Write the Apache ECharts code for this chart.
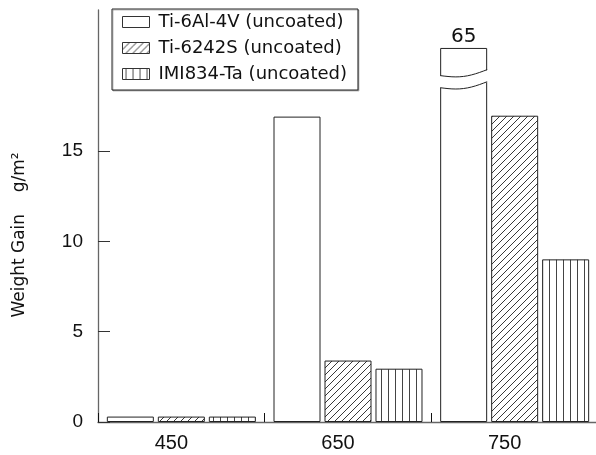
<!DOCTYPE html>
<html><head><meta charset="utf-8">
<script src="https://cdn.jsdelivr.net/npm/echarts@6/dist/echarts.min.js"></script>
<style>html,body{margin:0;padding:0;background:#fff}#c{width:596px;height:455px}</style>
</head><body><div id="c"></div>
<script>
// ---- data ----
const categories = ['450', '650', '750'];
const seriesNames = ['Ti-6Al-4V (uncoated)', 'Ti-6242S (uncoated)', 'IMI834-Ta (uncoated)'];
const ti64 = [0.3, 16.9, 65];
const ti6242 = [0.3, 3.4, 16.95];
const imi834 = [0.3, 2.95, 9.0];
const yTicks = [0, 5, 10, 15];
const yMax = 22.8;
const breakCap = 20.7;   // bars above this value are drawn broken, with their real value on top
const yTitle = 'Weight Gain    g/m\u00B2';

// ---- styles ----
const barW = 47, barGapRatio = 0.085;
const lineCol = '#222';
const axisCol = '#666';
const sansArial = 'Liberation Sans';
const sansWide = 'DejaVu Sans';

function makePattern(kind) {
  const c = document.createElement('canvas');
  const ctx = c.getContext('2d');
  if (kind === 'diag') {
    c.width = 7; c.height = 7;
    ctx.fillStyle = '#fff'; ctx.fillRect(0, 0, 7, 7);
    ctx.strokeStyle = '#222'; ctx.lineWidth = 0.9;
    ctx.beginPath();
    ctx.moveTo(-1, 8); ctx.lineTo(8, -1);
    ctx.moveTo(-1, 1); ctx.lineTo(1, -1);
    ctx.moveTo(6, 8); ctx.lineTo(8, 6);
    ctx.stroke();
  } else {
    c.width = 7; c.height = 4;
    ctx.fillStyle = '#fff'; ctx.fillRect(0, 0, 7, 4);
    ctx.fillStyle = '#444'; ctx.fillRect(3, 0, 1, 4);
  }
  return { image: c, repeat: 'repeat' };
}

const fills = ['#ffffff', makePattern('diag'), makePattern('vert')];
const values = [ti64, ti6242, imi834];

const barSeries = values.map((arr, s) => ({
  type: 'bar',
  name: seriesNames[s],
  barWidth: barW,
  barGap: (barGapRatio * 100) + '%',
  itemStyle: { color: fills[s], borderColor: lineCol, borderWidth: 1 },
  z: 2,
  data: arr.map(v => v > breakCap
    ? { value: breakCap, label: { show: true, position: 'top', distance: 1, formatter: String(v),
        fontFamily: sansWide, fontSize: 20, color: '#111' } }
    : v)
}));

// break marker for bars above the cap (first series)
const breakData = ti64.map((v, i) => [i, v]).filter(d => d[1] > breakCap);
const breakSeries = {
  type: 'custom',
  name: 'break',
  z: 5,
  silent: true,
  data: breakData,
  renderItem: function (params, api) {
    const i = api.value(0);
    const cx = api.coord([i, 0])[0] - (barW + barW * barGapRatio);
    const L = cx - barW / 2, R = cx + barW / 2;
    const edge = (a) => {
      const pts = [];
      for (let k = 0; k <= 12; k++) {
        const t = k / 12;
        const val = a + 0.33 * t - 0.21 * Math.sin(Math.PI * t);
        pts.push([L + (R - L) * t, api.coord([i, val])[1]]);
      }
      return pts;
    };
    const up = edge(breakCap - 1.53);
    const lo = edge(breakCap - 2.2);
    const poly = up.map(p => p.slice()).concat(lo.slice().reverse().map(p => p.slice()));
    poly.forEach(p => { if (p[0] === L) p[0] -= 2; if (p[0] === R) p[0] += 2; });
    return {
      type: 'group',
      children: [
        { type: 'polygon', shape: { points: poly }, style: { fill: '#fff', stroke: null } },
        { type: 'polyline', shape: { points: up }, style: { stroke: lineCol, lineWidth: 1, fill: null } },
        { type: 'polyline', shape: { points: lo }, style: { stroke: lineCol, lineWidth: 1, fill: null } }
      ]
    };
  }
};

const chart = echarts.init(document.getElementById('c'), null, { renderer: 'canvas' });
chart.setOption({
  animation: false,
  backgroundColor: '#fff',
  grid: { left: 98, right: -2, top: 10, bottom: 33, containLabel: false, outerBoundsMode: 'none' },
  legend: {
    data: seriesNames,
    orient: 'vertical',
    left: 112, top: 9,
    itemWidth: 27, itemHeight: 11, itemGap: 8,
    icon: 'rect',
    selectedMode: false,
    itemStyle: { borderWidth: 1, borderColor: '#333' },
    textStyle: { fontFamily: sansWide, fontSize: 18, lineHeight: 18, color: '#111', padding: [0, 0, 0, 4] },
    backgroundColor: '#fff',
    borderColor: lineCol, borderWidth: 1,
    shadowColor: 'rgba(0,0,0,0.25)', shadowBlur: 0, shadowOffsetX: 1, shadowOffsetY: 1,
    padding: [4, 11, 7, 10]
  },
  xAxis: {
    type: 'category',
    data: categories,
    boundaryGap: true,
    axisLine: { show: true, lineStyle: { color: axisCol, width: 1.3 } },
    axisTick: { show: true, inside: true, length: 9, alignWithLabel: false, interval: 0, lineStyle: { color: '#111', width: 1 } },
    axisLabel: { fontFamily: sansArial, fontSize: 20, color: '#111', margin: 11, padding: [0, 20, 0, 0] },
    splitLine: { show: false }
  },
  yAxis: {
    type: 'value',
    min: 0, max: yMax, interval: 5,
    axisLine: { show: true, lineStyle: { color: axisCol, width: 1.3 } },
    axisTick: { show: true, inside: true, length: 12, customValues: yTicks, lineStyle: { color: '#333', width: 1 } },
    axisLabel: { customValues: yTicks, fontFamily: sansArial, fontSize: 19, color: '#111', margin: 15 },
    splitLine: { show: false }
  },
  graphic: [{
    type: 'text',
    x: 20, y: 235,
    rotation: Math.PI / 2,
    style: { text: yTitle, font: "17px 'DejaVu Sans', sans-serif", fill: '#111', textAlign: 'center', textVerticalAlign: 'middle' }
  }],
  series: barSeries.concat([breakSeries])
});
</script>
</body></html>
